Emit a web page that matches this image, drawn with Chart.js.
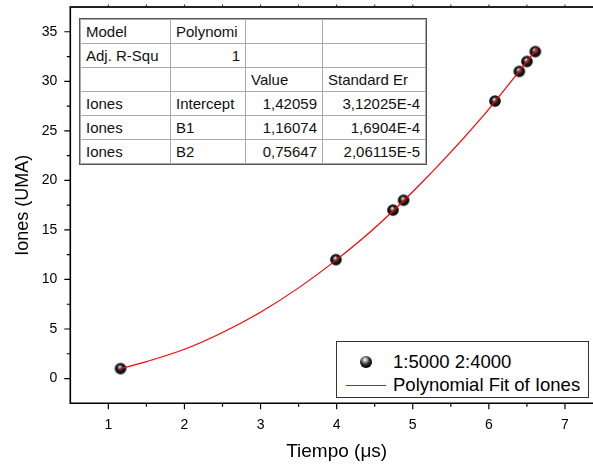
<!DOCTYPE html>
<html>
<head>
<meta charset="utf-8">
<script src="https://cdn.jsdelivr.net/npm/chart.js@4/dist/chart.umd.min.js"></script>
<style>
html, body { margin: 0; padding: 0; background: #fff; overflow: hidden; }
#wrap { position: relative; width: 593px; height: 466px; overflow: hidden; font-family: "Liberation Sans", Arial, sans-serif; }
#chart { position: absolute; left: 0; top: 0; }
#fitTable { position: absolute; left: 80px; top: 19px; width: 345px; border-collapse: collapse; table-layout: fixed;
  font-size: 15px; color: #111; background: #fff; outline: 1.5px solid #555; }
#fitTable td { border: 1px solid #aaa; height: 23px; padding: 0 5px; white-space: nowrap; overflow: hidden; line-height: 23px; }
#fitTable td.r { text-align: right; }
#legendBox { position: absolute; left: 336px; top: 341px; width: 251px; height: 55px; border: 1px solid #333; background: #fff; }
.legRow { position: absolute; left: 56px; font-size: 18.5px; color: #000; white-space: nowrap; }
.ball { position: absolute; width: 12px; height: 12px; border-radius: 50%;
  background: radial-gradient(circle at 42% 32%, #fff 0, #bbb 14%, #333 42%, #000 70%); }
.redLine { position: absolute; height: 1px; background: #f00; }
</style>
</head>
<body>
<div id="wrap">
  <canvas id="chart" width="610" height="466"></canvas>
  <table id="fitTable">
    <colgroup><col style="width:90px"><col style="width:75px"><col style="width:77px"><col style="width:103px"></colgroup>
    <tr><td>Model</td><td>Polynomi</td><td></td><td></td></tr>
    <tr><td>Adj. R-Squ</td><td class="r">1</td><td></td><td></td></tr>
    <tr><td></td><td></td><td>Value</td><td>Standard Er</td></tr>
    <tr><td>Iones</td><td>Intercept</td><td class="r">1,42059</td><td class="r">3,12025E-4</td></tr>
    <tr><td>Iones</td><td>B1</td><td class="r">1,16074</td><td class="r">1,6904E-4</td></tr>
    <tr><td>Iones</td><td>B2</td><td class="r">0,75647</td><td class="r">2,06115E-5</td></tr>
  </table>
  <div id="legendBox">
    <div class="ball" style="left:23px; top:14px;"></div>
    <div class="legRow" style="top:9px;">1:5000 2:4000</div>
    <div class="redLine" style="left:9px; width:40px; top:43px;"></div>
    <div class="legRow" style="top:32px;">Polynomial Fit of Iones</div>
  </div>
</div>
<script>
// Messpunkte (aus dem Bild gelesen)
const tiempo = [1.16, 3.99, 4.74, 4.88, 6.08, 6.40, 6.50, 6.61];
const iones = [1, 12, 17, 18, 28, 31, 32, 33];

const fitX = [1.16, 1.5, 2, 2.5, 3, 3.5, 4, 4.5, 5, 5.5, 6, 6.5, 6.65];
const fitY = [1.0, 1.7, 2.95, 4.65, 6.7, 9.15, 12.0, 15.2, 18.85, 22.85, 27.2, 32.0, 33.5];

// Achsen
const xTicks = [1, 2, 3, 4, 5, 6, 7];
const xMinor = [1.5, 2.5, 3.5, 4.5, 5.5, 6.5];
const yTicks = [0, 5, 10, 15, 20, 25, 30, 35];
const yMinor = [2.5, 7.5, 12.5, 17.5, 22.5, 27.5, 32.5];

function makeBall(r) {
  const size = Math.ceil(r * 2) + 2;
  const c = document.createElement('canvas');
  c.width = size; c.height = size;
  const g = c.getContext('2d');
  const cx = size / 2, cy = size / 2;
  const grad = g.createRadialGradient(cx - r * 0.15, cy - r * 0.35, 0, cx, cy, r);
  grad.addColorStop(0, '#ffffff');
  grad.addColorStop(0.15, '#bbbbbb');
  grad.addColorStop(0.45, '#2a2a2a');
  grad.addColorStop(1, '#000000');
  g.fillStyle = grad;
  g.beginPath();
  g.arc(cx, cy, r, 0, Math.PI * 2);
  g.fill();
  return c;
}

// Achsenlinien und Ticks im Origin-Stil selbst zeichnen
const axisPlugin = {
  id: 'originAxes',
  afterDraw(chart) {
    const ctx = chart.ctx;
    const a = chart.chartArea;
    const xs = chart.scales.x, ys = chart.scales.y;
    ctx.save();
    ctx.strokeStyle = '#000';
    ctx.lineWidth = 1.6;
    ctx.beginPath();
    ctx.moveTo(a.left, a.top); ctx.lineTo(a.left, a.bottom + 0.8);
    ctx.moveTo(a.left - 0.8, a.bottom); ctx.lineTo(a.right, a.bottom);
    ctx.stroke();

    ctx.lineWidth = 1.2;
    ctx.beginPath();
    xTicks.forEach(v => { const p = xs.getPixelForValue(v); ctx.moveTo(p, a.bottom); ctx.lineTo(p, a.bottom + 6); });
    xMinor.forEach(v => { const p = xs.getPixelForValue(v); ctx.moveTo(p, a.bottom); ctx.lineTo(p, a.bottom + 3.5); });
    yTicks.forEach(v => { const p = ys.getPixelForValue(v); ctx.moveTo(a.left, p); ctx.lineTo(a.left - 6, p); });
    yMinor.forEach(v => { const p = ys.getPixelForValue(v); ctx.moveTo(a.left, p); ctx.lineTo(a.left - 3.5, p); });
    ctx.stroke();

    // obere Achse
    ctx.strokeStyle = '#222';
    ctx.lineWidth = 2;
    ctx.beginPath();
    ctx.moveTo(a.left - 0.8, a.top); ctx.lineTo(a.right, a.top);
    ctx.stroke();
    ctx.lineWidth = 1;
    ctx.beginPath();
    xTicks.concat(xMinor).forEach(v => { const p = xs.getPixelForValue(v); ctx.moveTo(p, a.top); ctx.lineTo(p, a.top - 2.5); });
    ctx.stroke();
    ctx.restore();
  }
};

const ball = makeBall(5.8);

new Chart(document.getElementById('chart'), {
  type: 'scatter',
  data: {
    datasets: [
      {
        label: 'Polynomial Fit of Iones',
        data: fitX.map((x, i) => ({ x: x, y: fitY[i] })),
        showLine: true,
        borderColor: '#ff0000',
        borderWidth: 1.2,
        pointRadius: 0,
        cubicInterpolationMode: 'monotone',
        fill: false
      },
      {
        label: '1:5000 2:4000',
        data: tiempo.map((x, i) => ({ x: x, y: iones[i] })),
        pointStyle: ball,
        pointRadius: 6,
        showLine: false
      }
    ]
  },
  options: {
    responsive: false,
    animation: false,
    devicePixelRatio: 1,
    layout: { padding: { top: 6.7, right: 6.3, left: 0, bottom: 0 } },
    plugins: { legend: { display: false }, tooltip: { enabled: false } },
    scales: {
      x: {
        type: 'linear', min: 0.5, max: 7.5,
        grid: { display: false }, border: { display: false },
        afterBuildTicks: s => { s.ticks = xTicks.map(v => ({ value: v })); },
        afterFit: s => { s.height = 62.7; s.paddingLeft = 0; s.paddingRight = 0; },
        ticks: { color: '#000', padding: 5.5, font: { family: '"Liberation Sans", Arial, sans-serif', size: 14 } },
        title: { display: true, text: 'Tiempo (μs)', color: '#000', padding: { top: 0, bottom: 3 },
                 font: { family: '"Liberation Sans", Arial, sans-serif', size: 19 } }
      },
      y: {
        type: 'linear', min: -2.5, max: 37.5,
        grid: { display: false }, border: { display: false },
        afterBuildTicks: s => { s.ticks = yTicks.map(v => ({ value: v })); },
        afterFit: s => { s.width = 70.3; s.paddingTop = 0; s.paddingBottom = 0; },
        ticks: { color: '#000', padding: 5, font: { family: '"Liberation Sans", Arial, sans-serif', size: 14 } },
        title: { display: true, text: 'Iones (UMA)', color: '#000', padding: { top: 12, bottom: 0 },
                 font: { family: '"Liberation Sans", Arial, sans-serif', size: 18 } }
      }
    }
  },
  plugins: [axisPlugin]
});
</script>
</body>
</html>
